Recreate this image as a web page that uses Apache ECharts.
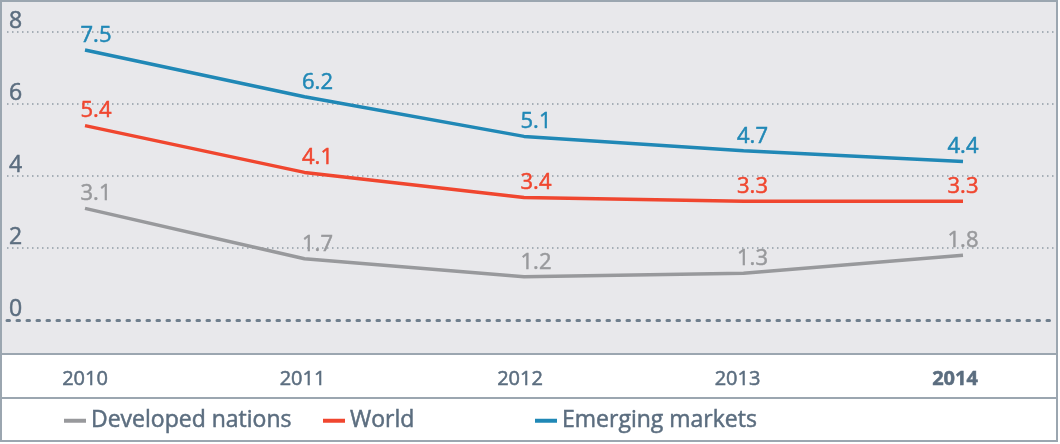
<!DOCTYPE html>
<html>
<head>
<meta charset="utf-8">
<script src="https://cdn.jsdelivr.net/npm/echarts@6/dist/echarts.min.js"></script>
<style>
  html, body { margin: 0; padding: 0; background: #fff; }
  #chart { width: 1060px; height: 444px; }
</style>
</head>
<body>
<div id="chart"></div>
<script>
const years = ['2010', '2011', '2012', '2013', '2014']
const developed = [3.1, 1.7, 1.2, 1.3, 1.8]
const world = [5.4, 4.1, 3.4, 3.3, 3.3]
const emerging = [7.5, 6.2, 5.1, 4.7, 4.4]
const yMin = 0
const yMax = 8
const yStep = 2

// label nudges to the right of each point, per year
const labelDx = [11, 13, 12, 9, 0]

const FONT = '"Open Sans", "Noto Sans", sans-serif'
const TEXT = '#5b6d7f'
const BORDER = '#9ba6b0'
const GRIDLINE = '#8f9aa5'
const colors = { developed: '#98999c', world: '#f0462f', emerging: '#2088b6' }

// the original face is a touch heavier than Open Sans, thicken it a little
function heavy (color) {
  return { textBorderColor: color, textBorderWidth: 0.5 }
}

function withLabels (values) {
  return values.map((v, i) => ({ value: v, label: { offset: [labelDx[i], 0] } }))
}

function lineSeries (name, values, color) {
  return {
    name,
    type: 'line',
    xAxisIndex: 0,
    yAxisIndex: 0,
    data: withLabels(values),
    // labels only show on symbols, so keep an invisible one
    symbol: 'circle',
    symbolSize: 1,
    showSymbol: true,
    smooth: false,
    lineStyle: { color, width: 3.5 },
    itemStyle: { color: 'transparent' },
    label: Object.assign({
      show: true,
      position: 'top',
      distance: 3,
      color,
      fontFamily: FONT,
      fontSize: 22
    }, heavy(color)),
    z: 5
  }
}

const legendBase = {
  top: 409,
  padding: 0,
  icon: 'rect',
  itemWidth: 22,
  itemHeight: 4,
  selectedMode: false,
  textStyle: Object.assign({ color: TEXT, fontFamily: FONT, fontSize: 23 }, heavy(TEXT))
}

function legendFor (name, color, left) {
  return Object.assign({}, legendBase, { left, data: [{ name, itemStyle: { color } }] })
}

// first split line sits under the heavier zero line, so hide it
const splitColors = [0, 2, 4, 6, 8].map((v, i) => (i === 0 ? 'transparent' : GRIDLINE))

const chart = echarts.init(document.getElementById('chart'))
chart.setOption({
  backgroundColor: '#fff',
  animation: false,
  graphic: [
    { type: 'rect', z: -10, shape: { x: 1, y: 1, width: 1056, height: 353 }, style: { fill: '#e8e8eb' } },
    { type: 'line', z: 10, shape: { x1: 1, y1: 354, x2: 1057, y2: 354 }, style: { stroke: BORDER, lineWidth: 2 } },
    { type: 'line', z: 10, shape: { x1: 1, y1: 398, x2: 1057, y2: 398 }, style: { stroke: BORDER, lineWidth: 2 } },
    { type: 'rect', z: 10, shape: { x: 1, y: 1, width: 1056, height: 440 }, style: { fill: 'none', stroke: BORDER, lineWidth: 2 } }
  ],
  grid: [
    // data lines
    { left: 85, right: 97, top: 32, bottom: 124 },
    // year labels
    { left: 85, right: 105, top: 32, bottom: 90 },
    // full-width gridlines and y labels
    { left: 7, right: 3, top: 32, bottom: 124 }
  ],
  xAxis: [
    { gridIndex: 0, type: 'category', data: years, boundaryGap: false, show: false },
    {
      gridIndex: 1,
      type: 'category',
      data: years,
      boundaryGap: false,
      axisLine: { show: false },
      axisTick: { show: false },
      axisLabel: Object.assign({
        margin: 15,
        fontFamily: FONT,
        fontSize: 20,
        color: TEXT,
        formatter: (v, i) => (i === years.length - 1 ? '{b|' + v + '}' : v),
        rich: { b: { fontFamily: FONT, fontSize: 20, fontWeight: 'bold', color: TEXT } }
      }, heavy(TEXT))
    },
    {
      gridIndex: 2,
      type: 'value',
      min: 0,
      max: 1,
      axisLine: { show: true, onZero: true, lineStyle: { color: '#6e7e8d', width: 3, type: [2.5, 7.5] } },
      axisTick: { show: false },
      axisLabel: { show: false },
      splitLine: { show: false }
    }
  ],
  yAxis: [
    { gridIndex: 0, type: 'value', min: yMin, max: yMax, interval: yStep, show: false },
    { gridIndex: 1, type: 'value', show: false },
    {
      gridIndex: 2,
      type: 'value',
      min: yMin,
      max: yMax,
      interval: yStep,
      axisLine: { show: false },
      axisTick: { show: false },
      axisLabel: Object.assign({
        inside: true,
        margin: 2,
        verticalAlign: 'bottom',
        lineHeight: 21,
        fontFamily: FONT,
        fontSize: 23,
        color: TEXT
      }, heavy(TEXT)),
      splitLine: {
        show: true,
        lineStyle: { color: splitColors, width: 1.5, type: [1.5, 3.5] }
      }
    }
  ],
  legend: [
    legendFor('Developed nations', colors.developed, 64),
    legendFor('World', colors.world, 323),
    legendFor('Emerging markets', colors.emerging, 535)
  ],
  series: [
    lineSeries('Developed nations', developed, colors.developed),
    lineSeries('World', world, colors.world),
    lineSeries('Emerging markets', emerging, colors.emerging)
  ]
})
</script>
</body>
</html>
